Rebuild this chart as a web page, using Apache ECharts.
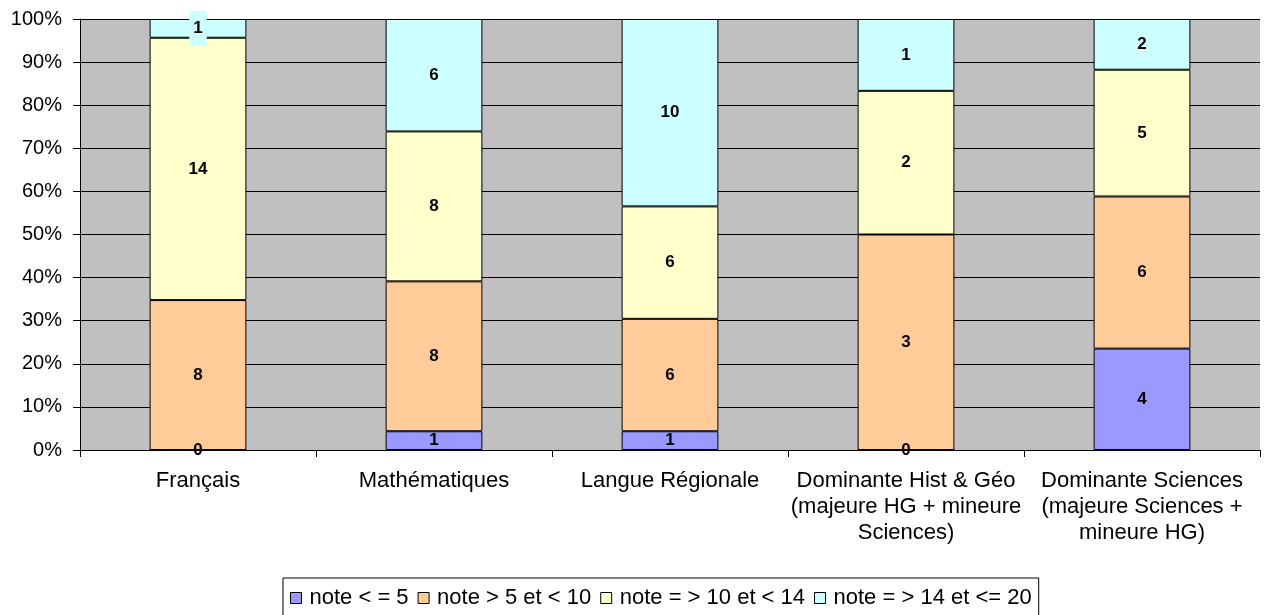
<!DOCTYPE html>
<html>
<head>
<meta charset="utf-8">
<style>
  html, body { margin: 0; padding: 0; background: #fff; }
  #chart { width: 1264px; height: 615px; }
</style>
<script src="https://cdn.jsdelivr.net/npm/echarts@6/dist/echarts.min.js"></script>
</head>
<body>
<div id="chart"></div>
<script>
// 100% stacked bars; labels show the raw counts, height is the share of the column
const categories = [
  "Français",
  "Mathématiques",
  "Langue Régionale",
  "Dominante Hist & Géo\n(majeure HG + mineure\nSciences)",
  "Dominante Sciences\n(majeure Sciences +\nmineure HG)",
];
const seriesNames = [
  "note < = 5",
  "note > 5 et < 10",
  "note = > 10 et < 14",
  "note = > 14 et <= 20",
];
const noteLow = [0, 1, 1, 0, 4];
const noteMid = [8, 8, 6, 3, 6];
const noteGood = [14, 8, 6, 2, 5];
const noteHigh = [1, 6, 10, 1, 2];
const yTicks = [0, 10, 20, 30, 40, 50, 60, 70, 80, 90, 100];

const COLORS = ["#9999FF", "#FFCC99", "#FFFFCC", "#CCFFFF"];
const FONT = "'Liberation Sans', Arial, sans-serif";

const counts = [noteLow, noteMid, noteGood, noteHigh];
const totals = categories.map((_, i) => counts.reduce((s, arr) => s + arr[i], 0));

const series = counts.map((arr, k) => ({
  name: seriesNames[k],
  type: "bar",
  stack: "all",
  barWidth: "41%",
  data: arr.map((c, i) => ({ value: (c / totals[i]) * 100, count: c })),
  itemStyle: { color: COLORS[k], borderColor: "#000", borderWidth: 1 },
  label: {
    show: true,
    position: "inside",
    formatter: (p) => String(p.data.count),
    fontFamily: FONT,
    fontSize: 17,
    fontWeight: "bold",
    color: "#000",
    // Excel draws the label box filled; only visible where it spills over the top
    ...(k === 3 ? { backgroundColor: COLORS[3], padding: [10, 4, 8, 4] } : {}),
  },
  emphasis: { disabled: true },
}));

const chart = echarts.init(document.getElementById("chart"));
chart.setOption({
  animation: false,
  textStyle: { fontFamily: FONT, color: "#000" },
  grid: {
    left: 80, right: 4, top: 19, bottom: 165,
    show: true, backgroundColor: "#C0C0C0", borderWidth: 0,
  },
  legend: {
    data: seriesNames,
    left: 283, top: 578,
    orient: "horizontal",
    icon: "rect",
    itemWidth: 11, itemHeight: 11, itemGap: 9,
    itemStyle: { borderColor: "#000", borderWidth: 1 },
    borderColor: "#000", borderWidth: 1,
    padding: [9, 7, 9, 7],
    textStyle: { fontFamily: FONT, fontSize: 22, color: "#000", padding: [0, 0, 0, 3] },
  },
  xAxis: {
    type: "category",
    data: categories,
    axisLine: { lineStyle: { color: "#000", width: 1 } },
    axisTick: { show: true, length: 7, alignWithLabel: false, lineStyle: { color: "#000" } },
    axisLabel: {
      interval: 0, margin: 18, fontFamily: FONT, fontSize: 22, lineHeight: 26, color: "#000",
    },
  },
  yAxis: {
    type: "value",
    min: yTicks[0], max: yTicks[yTicks.length - 1], interval: 10,
    axisLine: { show: true, lineStyle: { color: "#000", width: 1 } },
    axisTick: { show: true, length: 7, lineStyle: { color: "#000" } },
    axisLabel: { formatter: "{value}%", margin: 18, fontFamily: FONT, fontSize: 20, color: "#000" },
    splitLine: { show: true, lineStyle: { color: "#000", width: 1 } },
  },
  series,
});
</script>
</body>
</html>
